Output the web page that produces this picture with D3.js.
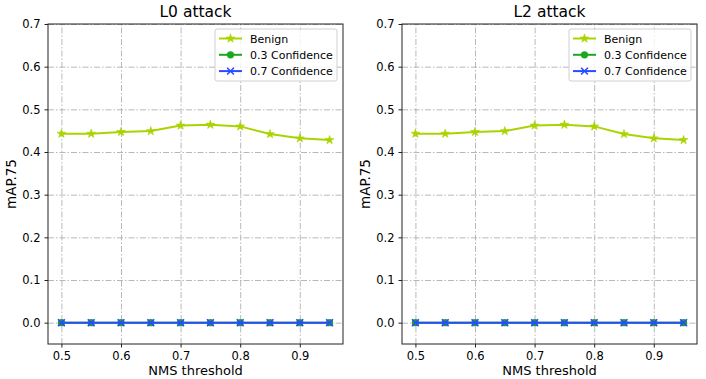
<!DOCTYPE html>
<html>
<head>
<meta charset="utf-8">
<script src="https://cdn.jsdelivr.net/npm/d3@7"></script>
<style>
  body { margin: 0; background: #fff; }
  svg text { font-family: "DejaVu Sans", sans-serif; fill: #000; }
  .axis path, .axis line { stroke: #222; }
  .grid line { stroke: #b0b0b0; stroke-dasharray: 6 2 1.5 2; stroke-width: 0.9; }
  .grid path { display: none; }
</style>
</head>
<body>
<div id="chart"></div>
<script>
// Data
var thresholds = [0.5, 0.55, 0.6, 0.65, 0.7, 0.75, 0.8, 0.85, 0.9, 0.95];
var benignL0 = [0.443, 0.443, 0.447, 0.449, 0.462, 0.464, 0.460, 0.442, 0.432, 0.428];
var conf03L0 = [0, 0, 0, 0, 0, 0, 0, 0, 0, 0];
var conf07L0 = [0, 0, 0, 0, 0, 0, 0, 0, 0, 0];
var benignL2 = [0.443, 0.443, 0.447, 0.449, 0.462, 0.464, 0.460, 0.442, 0.432, 0.428];
var conf03L2 = [0, 0, 0, 0, 0, 0, 0, 0, 0, 0];
var conf07L2 = [0, 0, 0, 0, 0, 0, 0, 0, 0, 0];
var xTicks = [0.5, 0.6, 0.7, 0.8, 0.9];
var yTicks = [0.0, 0.1, 0.2, 0.3, 0.4, 0.5, 0.6, 0.7];
var seriesNames = ["Benign", "0.3 Confidence", "0.7 Confidence"];
var seriesColors = ["#aad400", "#1ca81c", "#2a4cff"];
var seriesMarkers = ["star", "circle", "cross"];

var width = 706, height = 379;

var svg = d3.select("#chart").append("svg")
  .attr("width", width)
  .attr("height", height);

var drawMarker = function(g, type, color, x, y) {
  if (type === "star") {
    g.append("path")
      .attr("d", d3.symbol().type(d3.symbolStar).size(24)())
      .attr("transform", `translate(${x},${y})`)
      .attr("fill", color)
      .attr("stroke", color)
      .attr("stroke-width", 0.6);
  } else if (type === "circle") {
    g.append("circle")
      .attr("cx", x).attr("cy", y).attr("r", 3.6)
      .attr("fill", color);
  } else {
    var s = 3.4;
    g.append("path")
      .attr("d", `M${x - s},${y - s}L${x + s},${y + s}M${x - s},${y + s}L${x + s},${y - s}`)
      .attr("stroke", color)
      .attr("stroke-width", 1.6)
      .attr("fill", "none");
  }
};

// Render one panel
var renderPanel = function(config) {
  var left = config.left, right = config.right, top = 24, bottom = 344;

  var xScale = d3.scaleLinear().domain([0.4775, 0.9725]).range([left, right]);
  var yScale = d3.scaleLinear().domain([-0.05, 0.7]).range([bottom, top]);

  var g = svg.append("g");

  // grid
  g.append("g")
    .attr("class", "grid")
    .attr("transform", `translate(0,${bottom})`)
    .call(d3.axisBottom(xScale).tickValues(xTicks).tickSize(-(bottom - top)).tickFormat(""));
  g.append("g")
    .attr("class", "grid")
    .attr("transform", `translate(${left},0)`)
    .call(d3.axisLeft(yScale).tickValues(yTicks).tickSize(-(right - left)).tickFormat(""));

  // series
  var series = [config.benign, config.conf03, config.conf07];
  var line = d3.line()
    .x((d, i) => xScale(thresholds[i]))
    .y(d => yScale(d));

  series.forEach(function(values, k) {
    g.append("path")
      .datum(values)
      .attr("d", line)
      .attr("fill", "none")
      .attr("stroke", seriesColors[k])
      .attr("stroke-width", 2);
    var mg = g.append("g");
    values.forEach(function(v, i) {
      drawMarker(mg, seriesMarkers[k], seriesColors[k], xScale(thresholds[i]), yScale(v));
    });
  });

  // frame
  g.append("rect")
    .attr("x", left).attr("y", top)
    .attr("width", right - left).attr("height", bottom - top)
    .attr("fill", "none")
    .attr("stroke", "#222")
    .attr("stroke-width", 1);

  // axes
  var xAxis = g.append("g")
    .attr("class", "axis")
    .attr("transform", `translate(0,${bottom})`)
    .call(d3.axisBottom(xScale).tickValues(xTicks).tickSize(3.5).tickPadding(4).tickFormat(d3.format(".1f")));
  var yAxis = g.append("g")
    .attr("class", "axis")
    .attr("transform", `translate(${left},0)`)
    .call(d3.axisLeft(yScale).tickValues(yTicks).tickSize(3.5).tickPadding(4).tickFormat(d3.format(".1f")));
  [xAxis, yAxis].forEach(a => {
    a.select(".domain").remove();
    a.selectAll("text").style("font-size", "11.5px");
  });

  // title and labels
  g.append("text")
    .attr("x", (left + right) / 2).attr("y", 17)
    .attr("text-anchor", "middle")
    .style("font-size", "15.5px")
    .text(config.title);
  g.append("text")
    .attr("x", (left + right) / 2).attr("y", 375)
    .attr("text-anchor", "middle")
    .style("font-size", "13px")
    .text("NMS threshold");
  g.append("text")
    .attr("transform", `translate(${left - 32},${(top + bottom) / 2}) rotate(-90)`)
    .attr("text-anchor", "middle")
    .style("font-size", "13.5px")
    .text("mAP.75");

  // legend
  var lx = right - 128, ly = top + 5;
  var legend = g.append("g");
  legend.append("rect")
    .attr("x", lx).attr("y", ly)
    .attr("width", 122).attr("height", 52)
    .attr("rx", 2)
    .attr("fill", "#fff")
    .attr("fill-opacity", 0.8)
    .attr("stroke", "#d0d0d0");
  seriesNames.forEach(function(name, k) {
    var yy = ly + 9.5 + k * 16.3;
    legend.append("line")
      .attr("x1", lx + 4).attr("x2", lx + 27)
      .attr("y1", yy).attr("y2", yy)
      .attr("stroke", seriesColors[k])
      .attr("stroke-width", 2);
    drawMarker(legend, seriesMarkers[k], seriesColors[k], lx + 15.5, yy);
    legend.append("text")
      .attr("x", lx + 35).attr("y", yy + 4)
      .style("font-size", "11px")
      .text(name);
  });
};

renderPanel({ left: 48, right: 343, title: "L0 attack", benign: benignL0, conf03: conf03L0, conf07: conf07L0 });
renderPanel({ left: 402, right: 697, title: "L2 attack", benign: benignL2, conf03: conf03L2, conf07: conf07L2 });
</script>
</body>
</html>
